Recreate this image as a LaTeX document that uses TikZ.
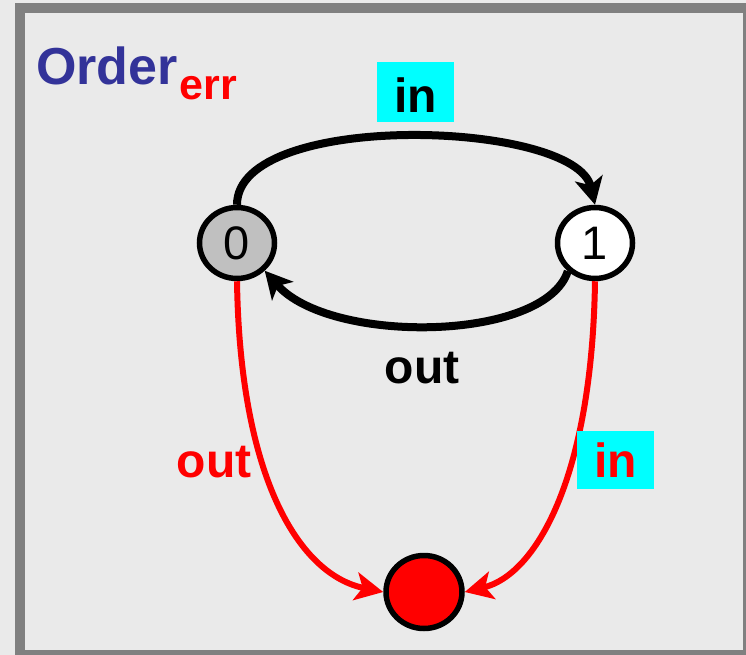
\documentclass[tikz,border=0pt]{standalone}
\usepackage{fontspec}
\setmainfont{Liberation Sans}
\usetikzlibrary{arrows.meta,shapes.geometric}
\definecolor{ordblue}{HTML}{333399}
\definecolor{framegray}{HTML}{808080}
\definecolor{bgray}{HTML}{EAEAEA}
\definecolor{ngray}{HTML}{C0C0C0}
\definecolor{lblcyan}{HTML}{00FFFF}
\tikzset{
  state/.style={ellipse, draw=black, line width=5.5pt, minimum width=75pt, minimum height=71pt, inner sep=0pt,
    font=\fontsize{47}{47}\selectfont},
  blk/.style={draw=black, line width=8pt, -{Stealth[length=27pt,width=28pt,inset=7pt]}},
  redarr/.style={draw=red, line width=6pt, -{Stealth[length=28pt,width=28pt,inset=7pt]}},
  lbl/.style={font=\fontsize{48}{48}\selectfont\bfseries, inner sep=0pt},
  cyanbox/.style={lbl, fill=lblcyan, minimum width=77pt}
}
\begin{document}
\begin{tikzpicture}[x=1pt,y=-1pt]
\useasboundingbox (0,0) rectangle (746,655);
\clip (0,0) rectangle (746,655);
\fill[bgray] (0,0) rectangle (746,655);
\draw[framegray, line width=10pt] (20,8) rectangle (748,655);

\node[anchor=base west, inner sep=0pt, font=\bfseries] (title) at (36,85)
  {\fontsize{52}{52}\selectfont\textcolor{ordblue}{Order}\hspace{2pt}\raisebox{-15pt}{\fontsize{43}{43}\selectfont\textcolor{red}{err}}};

\node[state, fill=ngray] (n0) at (237,243) {0};
\node[state, fill=white] (n1) at (595,243) {1};
\node[ellipse, draw=black, line width=5.5pt, fill=red, minimum width=76pt, minimum height=73pt, inner sep=0pt] (err) at (424,592) {};

\draw[blk] (n0.north) .. controls +(0,-95) and +(-20,-85) .. (n1.north);
\draw[blk] (n1.226) .. controls (545,342) and (330,345) .. (n0.-45);
\draw[redarr] (n0.south) .. controls (240,480) and (300,575) .. (err.west);
\draw[redarr] (n1.south) .. controls (592,480) and (535,575) .. (err.east);

\node[cyanbox, minimum height=60pt, text height=46pt, text depth=4pt] (inTop) at (415.5,92) {in};
\node[lbl, anchor=base] (outBot) at (422,383) {out};
\node[lbl, anchor=base, text=red] (outRed) at (214,477) {out};
\node[cyanbox, minimum height=58pt, text height=38pt, text depth=4pt, text=red] (inRed) at (615.5,460) {in\hspace{12pt}};
\end{tikzpicture}
\end{document}
